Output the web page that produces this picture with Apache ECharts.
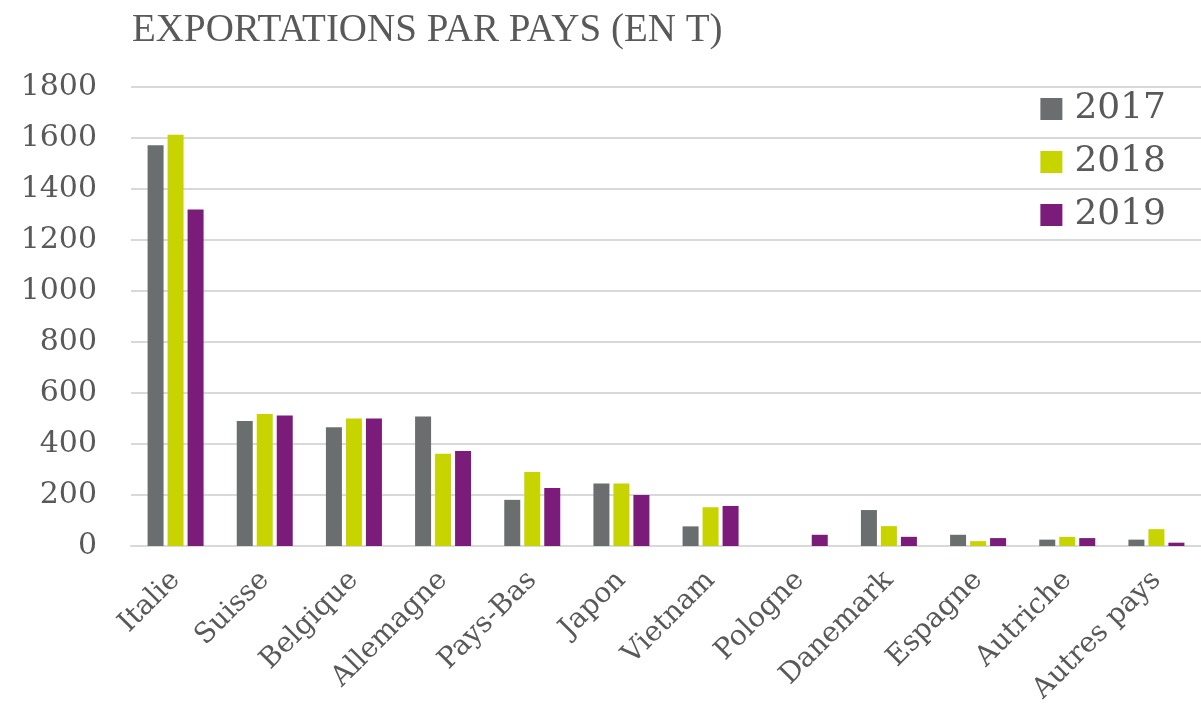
<!DOCTYPE html>
<html>
<head>
<meta charset="utf-8">
<script src="https://cdn.jsdelivr.net/npm/echarts@6/dist/echarts.min.js"></script>
<style>
  html, body { margin: 0; padding: 0; background: #fff; }
  #main { width: 1201px; height: 714px; }
</style>
</head>
<body>
<div id="main"></div>
<script>
var countries = ['Italie', 'Suisse', 'Belgique', 'Allemagne', 'Pays-Bas', 'Japon',
  'Vietnam', 'Pologne', 'Danemark', 'Espagne', 'Autriche', 'Autres pays'];
var years = ['2017', '2018', '2019'];
var v2017 = [1572, 490, 466, 508, 181, 245, 77, 0, 141, 44, 25, 25];
var v2018 = [1613, 518, 500, 362, 290, 245, 152, 0, 78, 19, 36, 66];
var v2019 = [1320, 512, 500, 373, 227, 200, 157, 44, 36, 31, 31, 13];
var colors = ['#6b6e6f', '#c8d400', '#7b1b7a'];

var chart = echarts.init(document.getElementById('main'));
var font = 'DejaVu Serif';

function bar(name, data, color) {
  return {
    name: name,
    type: 'bar',
    data: data,
    barWidth: 16,
    barGap: '25%',
    itemStyle: { color: color }
  };
}

chart.setOption({
  backgroundColor: '#ffffff',
  animation: false,
  color: colors,
  title: {
    text: 'EXPORTATIONS PAR PAYS (EN T)',
    left: 127,
    top: 6,
    textStyle: {
      fontFamily: 'Liberation Serif',
      fontWeight: 'normal',
      fontSize: 39,
      color: '#595959'
    }
  },
  legend: {
    orient: 'vertical',
    right: 30,
    top: 86,
    itemWidth: 22,
    itemHeight: 22,
    itemGap: 17,
    icon: 'rect',
    textStyle: {
      fontFamily: font,
      fontSize: 36,
      color: '#595959',
      padding: [0, 0, 0, 7]
    },
    data: years
  },
  grid: {
    left: 131,
    top: 87,
    width: 1083,
    bottom: 168
  },
  xAxis: {
    type: 'category',
    data: countries,
    axisTick: { show: false },
    axisLine: { lineStyle: { color: '#d9d9d9', width: 2 } },
    axisLabel: {
      rotate: 45,
      margin: 30,
      interval: 0,
      fontFamily: font,
      fontSize: 28,
      color: '#595959'
    }
  },
  yAxis: {
    type: 'value',
    min: 0,
    max: 1800,
    interval: 200,
    axisLine: { show: false },
    axisTick: { show: false },
    splitLine: { lineStyle: { color: '#d9d9d9', width: 2 } },
    axisLabel: {
      margin: 34,
      fontFamily: font,
      fontSize: 30,
      color: '#595959',
      formatter: function (v) { return String(v); }
    }
  },
  series: [
    bar(years[0], v2017, colors[0]),
    bar(years[1], v2018, colors[1]),
    bar(years[2], v2019, colors[2])
  ]
});
</script>
</body>
</html>
